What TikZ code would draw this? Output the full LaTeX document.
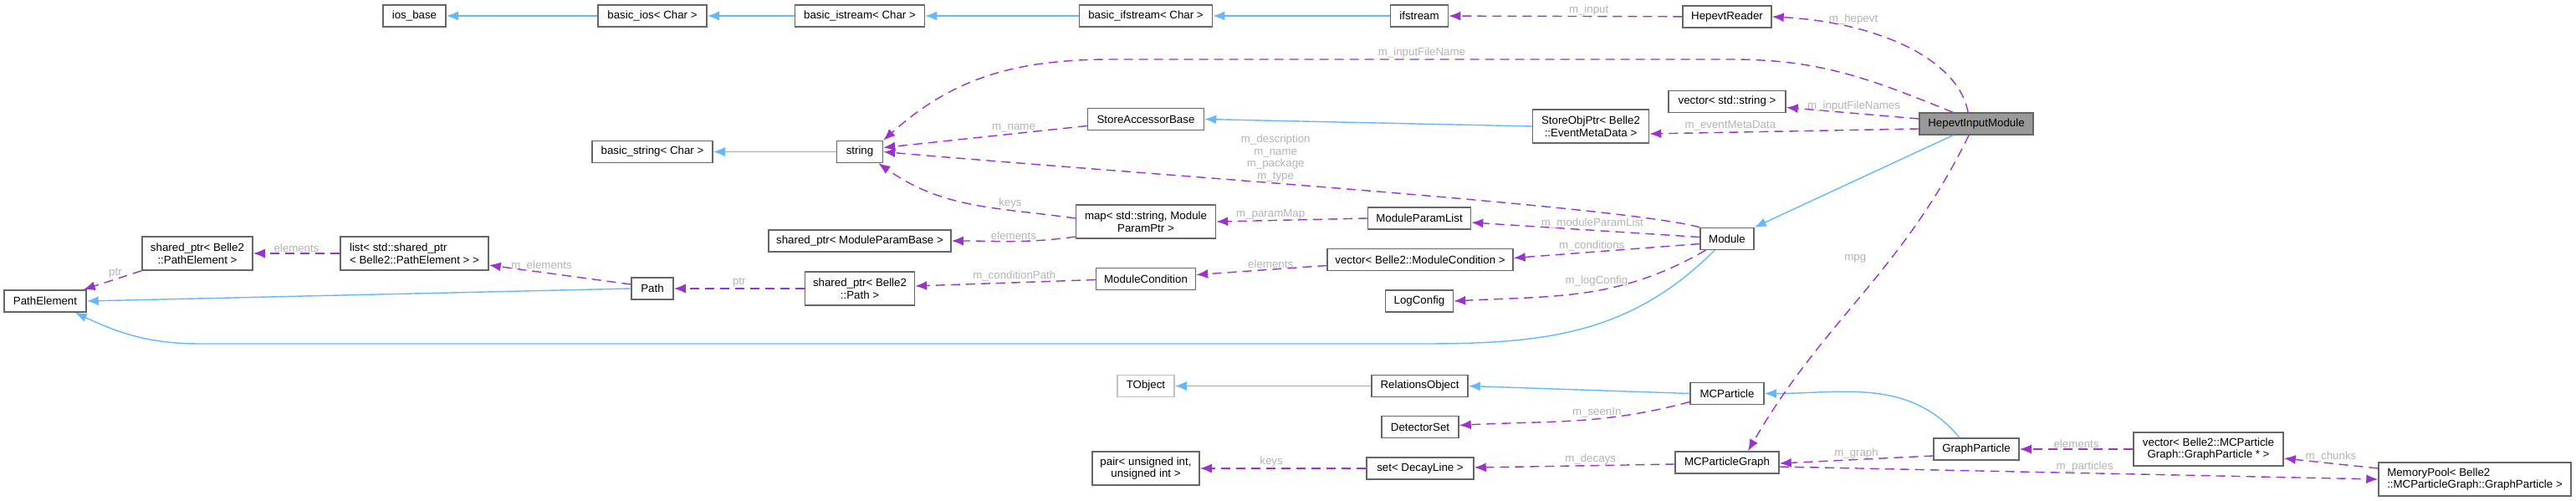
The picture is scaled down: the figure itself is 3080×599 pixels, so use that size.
\documentclass[tikz,border=0pt]{standalone}
\usepackage{fontspec}
\setmainfont{Liberation Sans}
\usepackage{xcolor}
\usetikzlibrary{arrows.meta}
\usetikzlibrary{positioning}
\definecolor{boxgray}{HTML}{666666}
\definecolor{mainfill}{HTML}{999999}
\definecolor{ghostgray}{HTML}{BFBFBF}
\definecolor{inhblue}{HTML}{63B8FF}
\definecolor{usepurple}{HTML}{9A32CD}
\definecolor{lblgray}{HTML}{B4B4B4}
\begin{document}
\begin{tikzpicture}[
		x=1pt, y=1pt,
		block/.style={draw=boxgray, fill=white, line width=1.5pt, font=\fontsize{13.3}{14.6}\selectfont, minimum height=26pt, inner xsep=6pt, inner ysep=2pt, align=center},
		twoline/.style={minimum height=40pt},
		inherit/.style={draw=inhblue, line width=1.4pt, -{Latex[length=14pt,width=11pt]}},
		usage/.style={draw=usepurple, line width=1.4pt, dash pattern=on 11pt off 7pt, -{Latex[length=14pt,width=11pt]}},
		lbl/.style={font=\fontsize{13.3}{14.6}\selectfont, text=lblgray, inner sep=1pt, align=center},
	]
	\useasboundingbox[fill=white] (0,0) rectangle (3080,-599);

	\node[block, minimum width=75pt] (iosbase) at (495.5,-19) {ios\_base};
	\node[block, minimum width=130pt] (basicios) at (780,-19) {basic\_ios< Char >};
	\node[block, minimum width=155pt] (basicistream) at (1028,-19) {basic\_istream< Char >};
	\node[block, minimum width=159pt] (basicifstream) at (1370,-19) {basic\_ifstream< Char >};
	\node[block, minimum width=69pt] (ifstream) at (1697,-19) {ifstream};
	\node[block, minimum width=106pt] (hepevtreader) at (2065,-20) {HepevtReader};
	\node[block, fill=mainfill, minimum width=136pt] (inputmodule) at (2363,-148) {HepevtInputModule};
	\node[block, minimum width=140pt] (filenames) at (2065,-121.5) {vector< std::string >};
	\node[block, twoline, minimum width=139pt] (eventmeta) at (1902,-151) {StoreObjPtr< Belle2\\::EventMetaData >};
	\node[block, minimum width=139pt] (accessorbase) at (1370,-142.5) {StoreAccessorBase};
	\node[block, minimum width=55pt] (string) at (1028,-181.5) {string};
	\node[block, minimum width=144pt] (basicstring) at (780,-181.5) {basic\_string< Char >};
	\node[block, twoline, minimum width=167pt] (parammap) at (1370,-265) {map< std::string, Module\\ParamPtr >};
	\node[block, minimum width=218pt] (paramptr) at (1028,-288) {shared\_ptr< ModuleParamBase >};
	\node[block, minimum width=123pt] (paramlist) at (1697,-261) {ModuleParamList};
	\node[block, minimum width=64pt] (module) at (2065,-285.5) {Module};
	\node[block, minimum width=222pt] (conditions) at (1698,-310.5) {vector< Belle2::ModuleCondition >};
	\node[block, minimum width=119pt] (condition) at (1370,-333.5) {ModuleCondition};
	\node[block, minimum width=81pt] (logconfig) at (1697,-360) {LogConfig};
	\node[block, twoline, minimum width=131pt] (pathptr) at (1028,-345) {shared\_ptr< Belle2\\::Path >};
	\node[block, minimum width=50pt] (path) at (780,-345) {Path};
	\node[block, twoline, align=left, minimum width=177pt] (elementlist) at (495.5,-303) {list< std::shared\_ptr\\< Belle2::PathElement > >};
	\node[block, twoline, minimum width=132pt] (elementptr) at (236,-303) {shared\_ptr< Belle2\\::PathElement >};
	\node[block, minimum width=98pt] (pathelement) at (54,-360) {PathElement};
	\node[block, draw=ghostgray, minimum width=68pt] (tobject) at (1370,-461.5) {TObject};
	\node[block, minimum width=115pt] (relations) at (1697.5,-461.5) {RelationsObject};
	\node[block, minimum width=88pt] (mcparticle) at (2065,-470.5) {MCParticle};
	\node[block, minimum width=92pt] (detectorset) at (1698,-510.5) {DetectorSet};
	\node[block, twoline, minimum width=128pt] (uintpair) at (1370,-560) {pair< unsigned int,\\unsigned int >};
	\node[block, minimum width=128pt] (decayset) at (1698,-560) {set< DecayLine >};
	\node[block, minimum width=124pt] (particlegraph) at (2065,-553) {MCParticleGraph};
	\node[block, minimum width=102pt] (graphparticle) at (2363,-537) {GraphParticle};
	\node[block, twoline, minimum width=179pt] (chunks) at (2640.5,-537) {vector< Belle2::MCParticle\\Graph::GraphParticle * >};
	\node[block, twoline, align=left, minimum width=230pt] (mempool) at (2959,-573) {MemoryPool< Belle2\\::MCParticleGraph::GraphParticle >};

	\coordinate (fnbendright) at (2070,-71);
	\coordinate (fnbendleft) at (1330,-71);
	\coordinate (basebendright) at (1700,-411);
	\coordinate (basebendleft) at (240,-411);

	\draw[inherit] (basicios) -- (iosbase);
	\draw[inherit] (basicistream) -- (basicios);
	\draw[inherit] (basicifstream) -- (basicistream);
	\draw[inherit] (ifstream) -- (basicifstream);
	\draw[inherit] (string) -- (basicstring);
	\draw[inherit] (eventmeta.west) -- (accessorbase.east);
	\draw[inherit] ([xshift=-28pt]inputmodule.south) -- (module.north east);
	\draw[inherit] ([xshift=-15pt]module.south) to[out=-135, in=0] (basebendright) -- (basebendleft) to[out=180, in=-25] ([xshift=-14pt]pathelement.south east);
	\draw[inherit] (path.west) -- (pathelement.east);
	\draw[inherit] (relations) -- (tobject);
	\draw[inherit] (mcparticle.west) -- (relations.east);
	\draw[inherit] ([xshift=-20pt]graphparticle.north) to[out=130, in=0] (mcparticle.east);

	\draw[usage] (hepevtreader) -- node[lbl, above, pos=0.4] {m\_input} (ifstream);
	\draw[usage] ([xshift=-10pt]inputmodule.north) to[out=100, in=-3, out distance=65pt, in distance=125pt] node[lbl, above=3pt, pos=0.72] {m\_hepevt} (hepevtreader.east);
	\draw[usage] ([xshift=-28pt]inputmodule.north) to[out=158, in=0] (fnbendright) -- node[lbl, above] {m\_inputFileName} (fnbendleft) to[out=180, in=42] (string.north east);
	\draw[usage] ([yshift=6pt]inputmodule.west) -- node[lbl, above, pos=0.49] {m\_inputFileNames} ([yshift=-7pt]filenames.east);
	\draw[usage] ([yshift=-6pt]inputmodule.west) -- node[lbl, above, pos=0.7] {m\_eventMetaData} ([yshift=-9pt]eventmeta.east);
	\draw[usage] (module.north west) to[out=165, in=-5, out distance=100pt, in distance=300pt] node[lbl, above, pos=0.58] {m\_description\\m\_name\\m\_package\\m\_type} (string.east);
	\draw[usage] ([yshift=-8pt]accessorbase.west) -- node[lbl, above, pos=0.36] {m\_name} ([yshift=5pt]string.east);
	\draw[usage] ([yshift=4pt]parammap.west) to[out=172, in=-35] node[lbl, above, pos=0.3] {keys} ([xshift=-6pt]string.south east);
	\draw[usage] ([yshift=-18pt]parammap.west) to[out=188, in=0] node[lbl, above, pos=0.5] {elements} (paramptr.east);
	\draw[usage] (paramlist.west) -- node[lbl, above, pos=0.64] {m\_paramMap} (parammap.east);
	\draw[usage] ([yshift=2pt]module.west) -- node[lbl, above, pos=0.47] {m\_moduleParamList} ([yshift=-5pt]paramlist.east);
	\draw[usage] ([yshift=-6pt]module.west) -- node[lbl, above, pos=0.58] {m\_conditions} ([yshift=2pt]conditions.east);
	\draw[usage] ([xshift=7pt]module.south west) to[out=210, in=3] node[lbl, above=4pt, pos=0.45] {m\_logConfig} (logconfig.east);
	\draw[usage] ([yshift=-7pt]conditions.west) -- node[lbl, above, pos=0.43] {elements} ([yshift=5pt]condition.east);
	\draw[usage] ([yshift=-1pt]condition.west) -- node[lbl, above, pos=0.45] {m\_conditionPath} ([yshift=3pt]pathptr.east);
	\draw[usage] (pathptr) -- node[lbl, above] {ptr} (path);
	\draw[usage] ([yshift=5pt]path.west) -- node[lbl, above, pos=0.63] {m\_elements} ([yshift=-14pt]elementlist.east);
	\draw[usage] (elementlist) -- node[lbl, above] {elements} (elementptr);
	\draw[usage] (elementptr.south west) -- node[lbl, above, pos=0.45] {ptr} ([xshift=-4pt]pathelement.north east);
	\draw[usage] ([xshift=-9pt]inputmodule.south) to[out=-116, in=60] node[lbl, left=28pt, pos=0.37] {mpg} ([xshift=25pt]particlegraph.north);
	\draw[usage] ([yshift=-10pt]mcparticle.west) to[out=195, in=3] node[lbl, above, pos=0.4] {m\_seenIn} ([yshift=2pt]detectorset.east);
	\draw[usage] ([yshift=-2pt]particlegraph.west) -- node[lbl, above, pos=0.42] {m\_decays} ([yshift=1pt]decayset.east);
	\draw[usage] (decayset) -- node[lbl, above, pos=0.57] {keys} (uintpair);
	\draw[usage] ([yshift=-8pt]graphparticle.west) -- node[lbl, above, pos=0.5] {m\_graph} ([yshift=-1pt]particlegraph.east);
	\draw[usage] ([yshift=13pt]mempool.west) -- node[lbl, above, pos=0.5] {m\_chunks} ([yshift=-11pt]chunks.east);
	\draw[usage] (chunks) -- node[lbl, above] {elements} (graphparticle);
	\draw[usage] ([yshift=-5pt]particlegraph.east) -- node[lbl, above, pos=0.51] {m\_particles} (mempool.west);
\end{tikzpicture}
\end{document}
